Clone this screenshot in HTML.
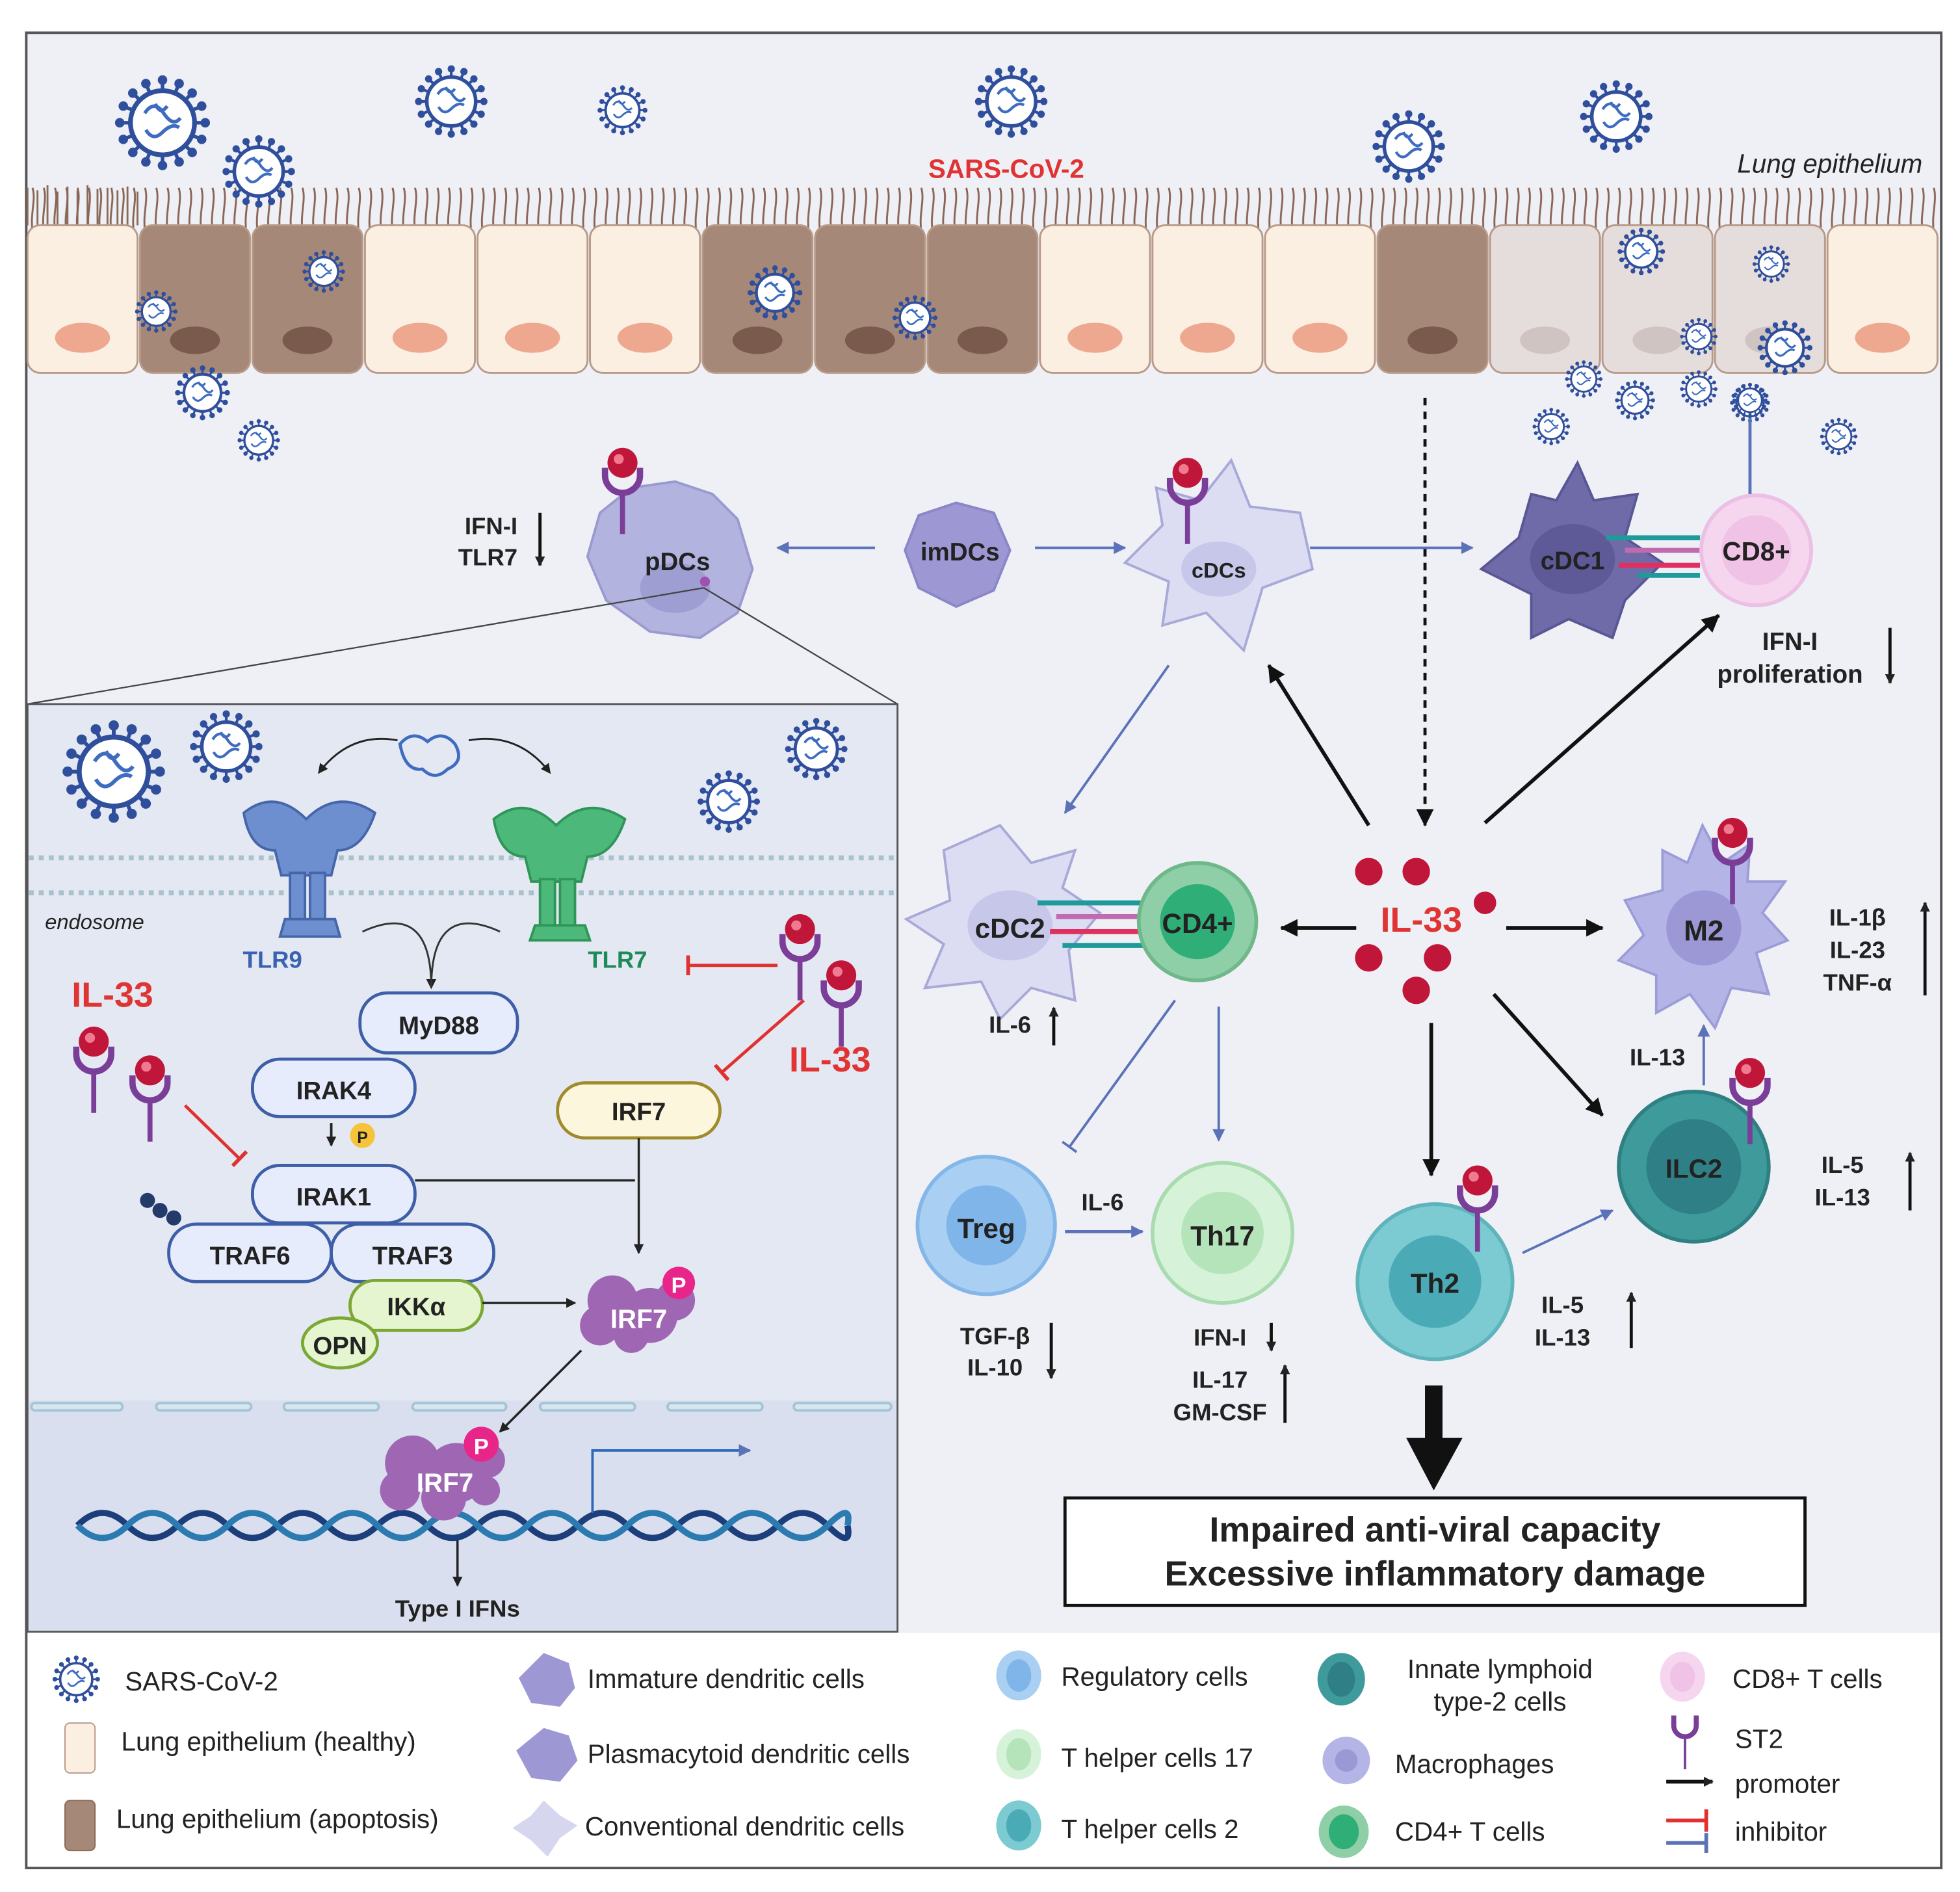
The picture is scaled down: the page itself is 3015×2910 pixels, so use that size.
<!DOCTYPE html>
<html><head><meta charset="utf-8"><style>
html,body{margin:0;padding:0;background:#fff;width:3015px;height:2910px;overflow:hidden}
svg{display:block}
text{font-family:"Liberation Sans",sans-serif;font-weight:bold;fill:#222}
.n{font-weight:normal}
</style></head><body>
<svg width="3015" height="2910" viewBox="0 0 1568 1513" xmlns="http://www.w3.org/2000/svg">
<defs>
<symbol id="v" viewBox="-40 -40 80 80">
<g stroke="#2f4e9c" stroke-width="3"><line x1="0" y1="-36" x2="0" y2="36"/><line x1="-36" y1="0" x2="36" y2="0"/><line x1="-25" y1="-25" x2="25" y2="25"/><line x1="-25" y1="25" x2="25" y2="-25"/><line x1="-14" y1="-33" x2="14" y2="33"/><line x1="14" y1="-33" x2="-14" y2="33"/><line x1="-33" y1="-14" x2="33" y2="14"/><line x1="-33" y1="14" x2="33" y2="-14"/></g>
<g fill="#2f4e9c"><circle cx="0" cy="-36" r="4"/><circle cx="0" cy="36" r="4"/><circle cx="-36" cy="0" r="4"/><circle cx="36" cy="0" r="4"/><circle cx="25" cy="25" r="4"/><circle cx="-25" cy="-25" r="4"/><circle cx="25" cy="-25" r="4"/><circle cx="-25" cy="25" r="4"/><circle cx="14" cy="33" r="4"/><circle cx="-14" cy="-33" r="4"/><circle cx="33" cy="14" r="4"/><circle cx="-33" cy="-14" r="4"/><circle cx="-14" cy="33" r="4"/><circle cx="14" cy="-33" r="4"/><circle cx="-33" cy="14" r="4"/><circle cx="33" cy="-14" r="4"/></g>
<circle r="27" fill="#fff" stroke="#2f4e9c" stroke-width="4"/>
<path d="M-15 -8 q8 -12 16 0 t14 4 M-14 6 q6 10 14 2 t14 -4 M-6 -16 q4 10 10 2" stroke="#3e6cc0" stroke-width="3" fill="none"/>
</symbol>
<symbol id="st2" viewBox="-20 -30 40 80">
<circle cx="0" cy="-12" r="12" fill="#c0163a"/><circle cx="-3" cy="-15" r="4" fill="#f07a90"/>
<path d="M-14 -8 v6 a14 14 0 0 0 28 0 v-6" stroke="#7a3e98" stroke-width="5" fill="none"/>
<line x1="0" y1="12" x2="0" y2="45" stroke="#7a3e98" stroke-width="4"/>
</symbol>
<marker id="ab" markerWidth="8" markerHeight="8" refX="7" refY="4" orient="auto" markerUnits="userSpaceOnUse"><path d="M0 0 L8 4 L0 8z" fill="#222"/></marker>
<marker id="abl" markerWidth="10" markerHeight="10" refX="9" refY="5" orient="auto" markerUnits="userSpaceOnUse"><path d="M0 0 L10 5 L0 10z" fill="#5b72b8"/></marker>
<marker id="abk" markerWidth="14" markerHeight="14" refX="13" refY="7" orient="auto" markerUnits="userSpaceOnUse"><path d="M0 0 L14 7 L0 14z" fill="#111"/></marker>
<marker id="tr" markerWidth="4" markerHeight="16" refX="2" refY="8" orient="auto" markerUnits="userSpaceOnUse"><rect x="0" y="0" width="3" height="16" fill="#e03030"/></marker>
<marker id="tb" markerWidth="4" markerHeight="14" refX="2" refY="7" orient="auto" markerUnits="userSpaceOnUse"><rect x="0" y="0" width="2" height="14" fill="#5b72b8"/></marker>
</defs>
<rect x="0" y="0" width="1568" height="1513" fill="#fff"/>
<rect x="21" y="26" width="1532" height="1280" fill="#eef0f6"/>
<rect x="21" y="26" width="1532" height="1468" fill="none" stroke="#555" stroke-width="2"/>

<!-- epithelium -->
<g id="epi">
<g stroke="#8a6a58" stroke-width="1.5" fill="none">
<path d="M22 180 V150 M30 180 V152 M38 180 V148 M46 180 V153 M54 180 V149 M62 180 V152 M70 180 V148 M78 180 V151 M86 180 V150 M94 180 V152 M102 180 V149 M110 180 V153"/>
</g>
</g>
<g id="cilia" stroke="#8a6454" stroke-width="1.6" fill="none"></g>
<!-- cilia via repeated pattern -->
<pattern id="cil" x="22" y="140" width="9" height="45" patternUnits="userSpaceOnUse"><path d="M4 45 C2 30 7 20 4 10" stroke="#8a6454" stroke-width="1.5" fill="none"/></pattern>
<rect x="22" y="148" width="1530" height="34" fill="url(#cil)"/>
<g stroke="#b89a88" stroke-width="1.5">
<rect x="22" y="180" width="88" height="118" rx="10" fill="#fbefe2"/>
<rect x="112" y="180" width="88" height="118" rx="10" fill="#a58878"/>
<rect x="202" y="180" width="88" height="118" rx="10" fill="#a58878"/>
<rect x="292" y="180" width="88" height="118" rx="10" fill="#fbefe2"/>
<rect x="382" y="180" width="88" height="118" rx="10" fill="#fbefe2"/>
<rect x="472" y="180" width="88" height="118" rx="10" fill="#fbefe2"/>
<rect x="562" y="180" width="88" height="118" rx="10" fill="#a58878"/>
<rect x="652" y="180" width="88" height="118" rx="10" fill="#a58878"/>
<rect x="742" y="180" width="88" height="118" rx="10" fill="#a58878"/>
<rect x="832" y="180" width="88" height="118" rx="10" fill="#fbefe2"/>
<rect x="922" y="180" width="88" height="118" rx="10" fill="#fbefe2"/>
<rect x="1012" y="180" width="88" height="118" rx="10" fill="#fbefe2"/>
<rect x="1102" y="180" width="88" height="118" rx="10" fill="#a58878"/>
<rect x="1192" y="180" width="88" height="118" rx="10" fill="#e4dddb"/>
<rect x="1282" y="180" width="88" height="118" rx="10" fill="#e4dddb"/>
<rect x="1372" y="180" width="88" height="118" rx="10" fill="#e4dddb"/>
<rect x="1462" y="180" width="88" height="118" rx="10" fill="#fbefe2"/>
</g>
<g>
<ellipse cx="66" cy="270" rx="22" ry="12" fill="#eea890"/>
<ellipse cx="156" cy="272" rx="20" ry="11" fill="#7a5a4c"/>
<ellipse cx="246" cy="272" rx="20" ry="11" fill="#7a5a4c"/>
<ellipse cx="336" cy="270" rx="22" ry="12" fill="#eea890"/>
<ellipse cx="426" cy="270" rx="22" ry="12" fill="#eea890"/>
<ellipse cx="516" cy="270" rx="22" ry="12" fill="#eea890"/>
<ellipse cx="606" cy="272" rx="20" ry="11" fill="#7a5a4c"/>
<ellipse cx="696" cy="272" rx="20" ry="11" fill="#7a5a4c"/>
<ellipse cx="786" cy="272" rx="20" ry="11" fill="#7a5a4c"/>
<ellipse cx="876" cy="270" rx="22" ry="12" fill="#eea890"/>
<ellipse cx="966" cy="270" rx="22" ry="12" fill="#eea890"/>
<ellipse cx="1056" cy="270" rx="22" ry="12" fill="#eea890"/>
<ellipse cx="1146" cy="272" rx="20" ry="11" fill="#7a5a4c"/>
<ellipse cx="1236" cy="272" rx="20" ry="11" fill="#cfc4c2"/>
<ellipse cx="1326" cy="272" rx="20" ry="11" fill="#cfc4c2"/>
<ellipse cx="1416" cy="272" rx="20" ry="11" fill="#cfc4c2"/>
<ellipse cx="1506" cy="270" rx="22" ry="12" fill="#eea890"/>
</g>
<!-- viruses -->
<use href="#v" x="92" y="60" width="76" height="76"/>
<use href="#v" x="178" y="108" width="58" height="58"/>
<use href="#v" x="332" y="52" width="58" height="58"/>
<use href="#v" x="478" y="68" width="40" height="40"/>
<use href="#v" x="780" y="52" width="58" height="58"/>
<use href="#v" x="1098" y="88" width="58" height="58"/>
<use href="#v" x="1264" y="64" width="58" height="58"/>
<use href="#v" x="108" y="232" width="34" height="34"/>
<use href="#v" x="242" y="200" width="34" height="34"/>
<use href="#v" x="140" y="292" width="44" height="44"/>
<use href="#v" x="190" y="335" width="34" height="34"/>
<use href="#v" x="598" y="212" width="44" height="44"/>
<use href="#v" x="714" y="236" width="36" height="36"/>
<use href="#v" x="1294" y="182" width="38" height="38"/>
<use href="#v" x="1402" y="196" width="30" height="30"/>
<use href="#v" x="1344" y="254" width="30" height="30"/>
<use href="#v" x="1406" y="256" width="44" height="44"/>
<use href="#v" x="1252" y="288" width="30" height="30"/>
<use href="#v" x="1292" y="304" width="32" height="32"/>
<use href="#v" x="1344" y="296" width="30" height="30"/>
<use href="#v" x="1384" y="306" width="32" height="32"/>
<use href="#v" x="1226" y="326" width="30" height="30"/>
<use href="#v" x="1456" y="334" width="30" height="30"/>
<text x="805" y="142" text-anchor="middle" font-size="21" style="fill:#e03434">SARS-CoV-2</text>
<text x="1538" y="138" text-anchor="end" font-size="21" class="n" font-style="italic">Lung epithelium</text>

<!-- dendritic cells row -->
<polygon points="540,385 570,395 590,415 602,455 590,490 560,510 520,505 485,480 470,445 480,410 505,390" fill="#b3b3df" stroke="#9a9ad0" stroke-width="2"/>
<ellipse cx="540" cy="470" rx="28" ry="20" fill="#9e9ed2"/>
<text x="542" y="456" text-anchor="middle" font-size="20">pDCs</text>
<circle cx="564" cy="465" r="4" fill="#a050b0"/>
<use href="#st2" x="478" y="352" width="40" height="80"/>
<text x="414" y="427" text-anchor="end" font-size="19">IFN-I</text>
<text x="414" y="452" text-anchor="end" font-size="19">TLR7</text>
<path d="M432 410 V452" stroke="#111" stroke-width="2.5" marker-end="url(#ab)"/>
<polygon points="765,402 795,410 808,440 795,472 765,485 735,470 724,440 735,412" fill="#9d98d4" stroke="#8a86c8" stroke-width="2"/>
<text x="768" y="448" text-anchor="middle" font-size="20">imDCs</text>
<line x1="700" y1="438" x2="622" y2="438" stroke="#5b72b8" stroke-width="2" marker-end="url(#abl)"/>
<line x1="828" y1="438" x2="900" y2="438" stroke="#5b72b8" stroke-width="2" marker-end="url(#abl)"/>
<polygon points="985,368 1000,405 1040,410 1050,455 1010,470 995,520 965,490 930,500 935,465 900,450 930,420 925,390 960,400" fill="#dcdcf2" stroke="#a9a9d8" stroke-width="2"/>
<ellipse cx="975" cy="455" rx="30" ry="22" fill="#c7c7ea"/>
<text x="975" y="462" text-anchor="middle" font-size="17">cDCs</text>
<use href="#st2" x="930" y="360" width="40" height="80"/>
<line x1="1048" y1="438" x2="1178" y2="438" stroke="#5b72b8" stroke-width="2" marker-end="url(#abl)"/>
<polygon points="1262,370 1275,400 1310,395 1300,430 1330,450 1300,480 1290,510 1255,495 1225,510 1225,475 1185,455 1215,430 1225,395 1245,400" fill="#6f6ba8" stroke="#5a5695" stroke-width="2"/>
<ellipse cx="1258" cy="447" rx="34" ry="28" fill="#5e5a98"/>
<text x="1258" y="455" text-anchor="middle" font-size="20">cDC1</text>
<g stroke-width="4"><line x1="1285" y1="430" x2="1360" y2="430" stroke="#1e9a9a"/><line x1="1300" y1="440" x2="1360" y2="440" stroke="#c06ab0"/><line x1="1295" y1="452" x2="1360" y2="452" stroke="#e03060"/><line x1="1310" y1="460" x2="1360" y2="460" stroke="#1e9a9a"/></g>
<circle cx="1405" cy="440" r="44" fill="#f5d6ee" stroke="#ecbfe4" stroke-width="3"/>
<circle cx="1405" cy="440" r="28" fill="#efc2e6"/>
<text x="1405" y="448" text-anchor="middle" font-size="21">CD8+</text>
<path d="M1400 395 V325" stroke="#5b72b8" stroke-width="2.5" marker-end="url(#tb)"/>
<use href="#v" x="1386" y="306" width="28" height="28"/>
<text x="1432" y="520" text-anchor="middle" font-size="20">IFN-I</text>
<text x="1432" y="546" text-anchor="middle" font-size="20">proliferation</text>
<path d="M1512 502 V546" stroke="#111" stroke-width="2.5" marker-end="url(#ab)"/>

<!-- arrows from IL-33 -->
<line x1="1140" y1="318" x2="1140" y2="660" stroke="#111" stroke-width="2.5" stroke-dasharray="6,5" marker-end="url(#abk)"/>
<line x1="1095" y1="660" x2="1015" y2="532" stroke="#111" stroke-width="3" marker-end="url(#abk)"/>
<line x1="1188" y1="658" x2="1375" y2="492" stroke="#111" stroke-width="3" marker-end="url(#abk)"/>
<line x1="1085" y1="742" x2="1025" y2="742" stroke="#111" stroke-width="3" marker-end="url(#abk)"/>
<line x1="1205" y1="742" x2="1282" y2="742" stroke="#111" stroke-width="3" marker-end="url(#abk)"/>
<line x1="1145" y1="818" x2="1145" y2="940" stroke="#111" stroke-width="3" marker-end="url(#abk)"/>
<line x1="1195" y1="795" x2="1282" y2="892" stroke="#111" stroke-width="3" marker-end="url(#abk)"/>
<line x1="935" y1="532" x2="852" y2="650" stroke="#5b72b8" stroke-width="2" marker-end="url(#abl)"/>
<!-- IL-33 dots -->
<g fill="#c0163a"><circle cx="1095" cy="697" r="11"/><circle cx="1133" cy="697" r="11"/><circle cx="1188" cy="722" r="9"/><circle cx="1095" cy="766" r="11"/><circle cx="1150" cy="766" r="11"/><circle cx="1133" cy="792" r="11"/></g>
<text x="1137" y="745" text-anchor="middle" font-size="28" style="fill:#e03434">IL-33</text>

<!-- cDC2 / CD4 -->
<polygon points="800,660 825,690 860,680 850,710 880,730 855,760 860,800 825,790 800,815 785,785 740,790 755,755 725,735 760,720 755,680" fill="#dcdcf2" stroke="#a9a9d8" stroke-width="2"/>
<ellipse cx="808" cy="740" rx="34" ry="28" fill="#c7c7ea"/>
<text x="808" y="750" text-anchor="middle" font-size="22">cDC2</text>
<g stroke-width="4"><line x1="830" y1="722" x2="915" y2="722" stroke="#1e9a9a"/><line x1="845" y1="733" x2="915" y2="733" stroke="#c06ab0"/><line x1="840" y1="745" x2="915" y2="745" stroke="#e03060"/><line x1="850" y1="756" x2="915" y2="756" stroke="#1e9a9a"/></g>
<circle cx="958" cy="737" r="47" fill="#8fcfa8" stroke="#6fb88a" stroke-width="3"/>
<circle cx="958" cy="737" r="30" fill="#2fae78"/>
<text x="958" y="746" text-anchor="middle" font-size="22">CD4+</text>
<text x="808" y="826" text-anchor="middle" font-size="19">IL-6</text>
<path d="M843 836 V806" stroke="#111" stroke-width="2.5" marker-end="url(#ab)"/>
<line x1="940" y1="800" x2="855" y2="918" stroke="#5b72b8" stroke-width="2" marker-end="url(#tb)"/>
<line x1="975" y1="805" x2="975" y2="912" stroke="#5b72b8" stroke-width="2" marker-end="url(#abl)"/>

<!-- M2 -->
<polygon points="1362,660 1378,690 1400,675 1398,705 1428,705 1410,730 1430,752 1405,762 1415,795 1385,790 1372,822 1352,795 1325,810 1325,780 1295,768 1315,748 1300,720 1330,712 1330,680 1350,690" fill="#b4b4e6" stroke="#9c9cd8" stroke-width="2"/>
<circle cx="1363" cy="742" r="30" fill="#9c98d6"/>
<text x="1363" y="752" text-anchor="middle" font-size="23">M2</text>
<use href="#st2" x="1366" y="648" width="40" height="80"/>
<text x="1486" y="740" text-anchor="middle" font-size="19">IL-1β</text>
<text x="1486" y="766" text-anchor="middle" font-size="19">IL-23</text>
<text x="1486" y="792" text-anchor="middle" font-size="19">TNF-α</text>
<path d="M1540 796 V722" stroke="#111" stroke-width="2.5" marker-end="url(#ab)"/>
<line x1="1363" y1="868" x2="1363" y2="820" stroke="#5b72b8" stroke-width="2" marker-end="url(#abl)"/>
<text x="1326" y="852" text-anchor="middle" font-size="19">IL-13</text>

<!-- ILC2 -->
<circle cx="1355" cy="933" r="60" fill="#3f9a9c" stroke="#2f8082" stroke-width="3"/>
<circle cx="1355" cy="933" r="38" fill="#2f7f86"/>
<text x="1355" y="942" text-anchor="middle" font-size="21">ILC2</text>
<use href="#st2" x="1380" y="840" width="40" height="80"/>
<text x="1474" y="938" text-anchor="middle" font-size="19">IL-5</text>
<text x="1474" y="964" text-anchor="middle" font-size="19">IL-13</text>
<path d="M1528 968 V922" stroke="#111" stroke-width="2.5" marker-end="url(#ab)"/>

<!-- Th2 -->
<circle cx="1148" cy="1025" r="62" fill="#7ccbd2" stroke="#5fb4bc" stroke-width="3"/>
<circle cx="1148" cy="1025" r="37" fill="#4aaab6"/>
<text x="1148" y="1034" text-anchor="middle" font-size="22">Th2</text>
<use href="#st2" x="1162" y="926" width="40" height="80"/>
<line x1="1218" y1="1002" x2="1290" y2="968" stroke="#5b72b8" stroke-width="2" marker-end="url(#abl)"/>
<text x="1250" y="1050" text-anchor="middle" font-size="19">IL-5</text>
<text x="1250" y="1076" text-anchor="middle" font-size="19">IL-13</text>
<path d="M1305 1078 V1034" stroke="#111" stroke-width="2.5" marker-end="url(#ab)"/>

<!-- Treg, Th17 -->
<circle cx="789" cy="980" r="55" fill="#a9cff2" stroke="#84b6e8" stroke-width="3"/>
<circle cx="789" cy="980" r="32" fill="#7fb5e8"/>
<text x="789" y="990" text-anchor="middle" font-size="22">Treg</text>
<circle cx="978" cy="986" r="56" fill="#d6f3d9" stroke="#a8dcae" stroke-width="3"/>
<circle cx="978" cy="986" r="33" fill="#b5e4bb"/>
<text x="978" y="996" text-anchor="middle" font-size="22">Th17</text>
<line x1="852" y1="985" x2="914" y2="985" stroke="#5b72b8" stroke-width="2.5" marker-end="url(#abl)"/>
<text x="882" y="968" text-anchor="middle" font-size="19">IL-6</text>
<text x="796" y="1075" text-anchor="middle" font-size="19">TGF-β</text>
<text x="796" y="1100" text-anchor="middle" font-size="19">IL-10</text>
<path d="M841 1058 V1102" stroke="#111" stroke-width="2.5" marker-end="url(#ab)"/>
<text x="976" y="1076" text-anchor="middle" font-size="19">IFN-I</text>
<path d="M1017 1058 V1080" stroke="#111" stroke-width="2.5" marker-end="url(#ab)"/>
<text x="976" y="1110" text-anchor="middle" font-size="19">IL-17</text>
<text x="976" y="1136" text-anchor="middle" font-size="19">GM-CSF</text>
<path d="M1028 1138 V1092" stroke="#111" stroke-width="2.5" marker-end="url(#ab)"/>

<!-- big arrow and box -->
<rect x="1140" y="1108" width="14" height="50" fill="#111"/>
<polygon points="1125,1150 1170,1150 1147,1192" fill="#111"/>
<rect x="852" y="1198" width="592" height="86" fill="#fff" stroke="#111" stroke-width="2.5"/>
<text x="1148" y="1233" text-anchor="middle" font-size="28">Impaired anti-viral capacity</text>
<text x="1148" y="1268" text-anchor="middle" font-size="28">Excessive inflammatory damage</text>

<!-- inset -->
<line x1="563" y1="470" x2="22" y2="563" stroke="#444" stroke-width="1.2"/>
<line x1="563" y1="470" x2="718" y2="563" stroke="#444" stroke-width="1.2"/>
<rect x="22" y="563" width="696" height="742" fill="#e4e8f3" stroke="#555" stroke-width="1.5"/>
<rect x="23" y="1120" width="694" height="184" fill="#d9dfee"/>
<g stroke="#a6c4d6" stroke-width="8" stroke-linecap="round"><line x1="28" y1="1125" x2="95" y2="1125"/><line x1="128" y1="1125" x2="198" y2="1125"/><line x1="230" y1="1125" x2="300" y2="1125"/><line x1="333" y1="1125" x2="402" y2="1125"/><line x1="435" y1="1125" x2="505" y2="1125"/><line x1="537" y1="1125" x2="607" y2="1125"/><line x1="638" y1="1125" x2="710" y2="1125"/></g>
<g stroke="#d5e6ee" stroke-width="4" stroke-linecap="round"><line x1="28" y1="1125" x2="95" y2="1125"/><line x1="128" y1="1125" x2="198" y2="1125"/><line x1="230" y1="1125" x2="300" y2="1125"/><line x1="333" y1="1125" x2="402" y2="1125"/><line x1="435" y1="1125" x2="505" y2="1125"/><line x1="537" y1="1125" x2="607" y2="1125"/><line x1="638" y1="1125" x2="710" y2="1125"/></g>
<line x1="23" y1="686" x2="717" y2="686" stroke="#a9c2cc" stroke-width="4" stroke-dasharray="4,4"/>
<line x1="23" y1="714" x2="717" y2="714" stroke="#a9c2cc" stroke-width="4" stroke-dasharray="4,4"/>
<use href="#v" x="50" y="576" width="82" height="82"/>
<use href="#v" x="152" y="568" width="58" height="58"/>
<use href="#v" x="628" y="574" width="50" height="50"/>
<use href="#v" x="558" y="616" width="50" height="50"/>
<path d="M320 595 q10 -12 22 -2 q12 -10 22 2 q8 14 -6 20 q-10 10 -20 0 q-14 2 -18 -20z" fill="none" stroke="#3e6cc0" stroke-width="2.5"/>
<path d="M318 592 Q280 585 255 618" stroke="#222" stroke-width="1.5" fill="none" marker-end="url(#ab)"/>
<path d="M375 592 Q415 585 440 618" stroke="#222" stroke-width="1.5" fill="none" marker-end="url(#ab)"/>
<!-- TLR9 -->
<g fill="#6d8fd0" stroke="#4566a8" stroke-width="2">
<path d="M195 650 q25 -20 50 5 q25 -25 55 -5 q-10 30 -30 30 l-5 20 h-40 l-5 -20 q-20 0 -25 -30z"/>
<rect x="232" y="698" width="12" height="38"/><rect x="248" y="698" width="12" height="38"/>
<path d="M228 735 h40 l4 14 h-48z"/>
</g>
<text x="218" y="774" text-anchor="middle" font-size="19" style="fill:#3b62b0">TLR9</text>
<!-- TLR7 -->
<g fill="#4cb87a" stroke="#2f9558" stroke-width="2">
<path d="M395 655 q25 -20 50 5 q25 -25 55 -5 q-10 30 -30 30 l-5 20 h-40 l-5 -20 q-20 0 -25 -30z"/>
<rect x="432" y="703" width="12" height="38"/><rect x="448" y="703" width="12" height="38"/>
<path d="M428 740 h40 l4 12 h-48z"/>
</g>
<text x="494" y="774" text-anchor="middle" font-size="19" style="fill:#1e8a5a">TLR7</text>
<text x="36" y="743" font-size="17" class="n" font-style="italic">endosome</text>
<path d="M290 745 Q345 720 345 790" stroke="#333" stroke-width="1.5" fill="none" marker-end="url(#ab)"/>
<path d="M400 745 Q345 720 345 790" stroke="#333" stroke-width="1.5" fill="none"/>
<!-- boxes -->
<g stroke="#3e5fa8" stroke-width="2.5" fill="#e6ecfb">
<rect x="288" y="794" width="126" height="48" rx="22"/>
<rect x="202" y="847" width="130" height="46" rx="22"/>
<rect x="202" y="932" width="130" height="46" rx="22"/>
<rect x="135" y="979" width="130" height="46" rx="22"/>
<rect x="265" y="979" width="130" height="46" rx="22"/>
</g>
<rect x="446" y="866" width="130" height="44" rx="22" fill="#fbf6dc" stroke="#a08a2a" stroke-width="2.5"/>
<rect x="280" y="1024" width="106" height="40" rx="20" fill="#e5f5cf" stroke="#7aa832" stroke-width="2.5"/>
<ellipse cx="272" cy="1074" rx="30" ry="20" fill="#e5f5cf" stroke="#7aa832" stroke-width="2.5"/>
<text x="351" y="827" text-anchor="middle" font-size="20">MyD88</text>
<text x="267" y="879" text-anchor="middle" font-size="20">IRAK4</text>
<text x="267" y="964" text-anchor="middle" font-size="20">IRAK1</text>
<text x="200" y="1011" text-anchor="middle" font-size="20">TRAF6</text>
<text x="330" y="1011" text-anchor="middle" font-size="20">TRAF3</text>
<text x="511" y="896" text-anchor="middle" font-size="20">IRF7</text>
<text x="333" y="1052" text-anchor="middle" font-size="20">IKKα</text>
<text x="272" y="1083" text-anchor="middle" font-size="20">OPN</text>
<g fill="#243a6a"><circle cx="118" cy="960" r="6"/><circle cx="128" cy="968" r="6"/><circle cx="139" cy="974" r="6"/></g>
<path d="M265 898 V916" stroke="#222" stroke-width="2" marker-end="url(#ab)"/>
<circle cx="290" cy="908" r="10" fill="#f6c43a"/><text x="290" y="914" text-anchor="middle" font-size="13">P</text>
<line x1="332" y1="944" x2="508" y2="944" stroke="#222" stroke-width="1.8"/>
<line x1="511" y1="910" x2="511" y2="1002" stroke="#222" stroke-width="1.8" marker-end="url(#ab)"/>
<line x1="386" y1="1042" x2="460" y2="1042" stroke="#222" stroke-width="1.8" marker-end="url(#ab)"/>
<g fill="#9f66b4"><circle cx="490" cy="1040" r="20"/><circle cx="520" cy="1052" r="22"/><circle cx="540" cy="1040" r="16"/><circle cx="480" cy="1060" r="16"/><circle cx="505" cy="1068" r="14"/></g>
<text x="511" y="1062" text-anchor="middle" font-size="21" style="fill:#fff">IRF7</text>
<circle cx="543" cy="1026" r="13" fill="#e8268a"/><text x="543" y="1034" text-anchor="middle" font-size="18" style="fill:#fff">P</text>
<line x1="465" y1="1080" x2="400" y2="1145" stroke="#222" stroke-width="1.8" marker-end="url(#ab)"/>
<!-- DNA -->
<path d="M62 1220 q20 -20 40 0 t40 0 t40 0 t40 0 t40 0 t40 0 t40 0 t40 0 t40 0 t40 0 t40 0 t40 0 t40 0 t40 0 t40 0 t16 0" stroke="#1c3e7a" stroke-width="5" fill="none"/>
<path d="M62 1220 q20 20 40 0 t40 0 t40 0 t40 0 t40 0 t40 0 t40 0 t40 0 t40 0 t40 0 t40 0 t40 0 t40 0 t40 0 t40 0 t16 0" stroke="#2b7ab0" stroke-width="5" fill="none"/>
<g fill="#9f66b4"><circle cx="330" cy="1170" r="22"/><circle cx="365" cy="1178" r="24"/><circle cx="390" cy="1168" r="14"/><circle cx="320" cy="1192" r="16"/><circle cx="355" cy="1198" r="18"/><circle cx="388" cy="1192" r="12"/></g>
<text x="356" y="1193" text-anchor="middle" font-size="21" style="fill:#fff">IRF7</text>
<circle cx="385" cy="1155" r="14" fill="#e8268a"/><text x="385" y="1163" text-anchor="middle" font-size="18" style="fill:#fff">P</text>
<path d="M474 1210 V1160 H600" stroke="#2b6ab8" stroke-width="2" fill="none" marker-end="url(#abl)"/>
<line x1="366" y1="1232" x2="366" y2="1268" stroke="#222" stroke-width="1.8" marker-end="url(#ab)"/>
<text x="366" y="1293" text-anchor="middle" font-size="19">Type I IFNs</text>
<!-- IL-33 inset -->
<text x="90" y="805" text-anchor="middle" font-size="28" style="fill:#e03434">IL-33</text>
<use href="#st2" x="55" y="815" width="40" height="80"/>
<use href="#st2" x="100" y="838" width="40" height="80"/>
<line x1="148" y1="884" x2="192" y2="927" stroke="#e03030" stroke-width="2.5" marker-end="url(#tr)"/>
<use href="#st2" x="620" y="725" width="40" height="80"/>
<use href="#st2" x="653" y="762" width="40" height="80"/>
<line x1="622" y1="772" x2="550" y2="772" stroke="#e03030" stroke-width="2.5" marker-end="url(#tr)"/>
<line x1="643" y1="800" x2="577" y2="858" stroke="#e03030" stroke-width="2.5" marker-end="url(#tr)"/>
<text x="664" y="857" text-anchor="middle" font-size="28" style="fill:#e03434">IL-33</text>

<!-- legend -->
<g font-size="21">
<use href="#v" x="42" y="1324" width="38" height="38"/>
<text x="100" y="1352" class="n">SARS-CoV-2</text>
<rect x="52" y="1378" width="24" height="40" rx="4" fill="#fbefe2" stroke="#b89a88"/>
<text x="97" y="1400" class="n">Lung epithelium (healthy)</text>
<rect x="52" y="1440" width="24" height="40" rx="4" fill="#a58878" stroke="#8a6a58"/>
<text x="93" y="1462" class="n">Lung epithelium (apoptosis)</text>
<polygon points="435,1322 455,1330 460,1350 448,1365 425,1362 415,1342" fill="#9d98d4"/>
<text x="470" y="1350" class="n">Immature dendritic cells</text>
<polygon points="435,1382 455,1388 462,1408 448,1425 425,1422 413,1400" fill="#9d98d4"/>
<text x="470" y="1410" class="n">Plasmacytoid dendritic cells</text>
<polygon points="435,1440 448,1452 462,1460 448,1470 438,1485 425,1472 410,1462 425,1452" fill="#d6d6ef"/>
<text x="468" y="1468" class="n">Conventional dendritic cells</text>
<ellipse cx="815" cy="1340" rx="18" ry="20" fill="#a9cff2"/><ellipse cx="815" cy="1340" rx="10" ry="13" fill="#7fb5e8"/>
<text x="849" y="1348" class="n">Regulatory cells</text>
<ellipse cx="815" cy="1403" rx="18" ry="20" fill="#d6f3d9"/><ellipse cx="815" cy="1403" rx="10" ry="13" fill="#b5e4bb"/>
<text x="849" y="1413" class="n">T helper cells 17</text>
<ellipse cx="815" cy="1460" rx="18" ry="20" fill="#7ccbd2"/><ellipse cx="815" cy="1460" rx="10" ry="13" fill="#4aaab6"/>
<text x="849" y="1470" class="n">T helper cells 2</text>
<ellipse cx="1073" cy="1343" rx="19" ry="21" fill="#3f9a9c"/><ellipse cx="1073" cy="1343" rx="11" ry="14" fill="#2f7f86"/>
<text x="1200" y="1342" text-anchor="middle" class="n">Innate lymphoid</text>
<text x="1200" y="1368" text-anchor="middle" class="n">type-2 cells</text>
<circle cx="1077" cy="1408" r="19" fill="#b4b4e6"/><circle cx="1077" cy="1408" r="9" fill="#9c98d6"/>
<text x="1116" y="1418" class="n">Macrophages</text>
<ellipse cx="1075" cy="1465" rx="20" ry="21" fill="#8fcfa8"/><ellipse cx="1075" cy="1465" rx="12" ry="14" fill="#2fae78"/>
<text x="1116" y="1472" class="n">CD4+ T cells</text>
<ellipse cx="1346" cy="1341" rx="18" ry="20" fill="#f5d6ee"/><ellipse cx="1346" cy="1341" rx="10" ry="12" fill="#efc2e6"/>
<text x="1386" y="1350" class="n">CD8+ T cells</text>
<path d="M1339 1372 v8 a9 9 0 0 0 18 0 v-8" stroke="#7a3e98" stroke-width="4" fill="none"/>
<line x1="1348" y1="1389" x2="1348" y2="1415" stroke="#7a3e98" stroke-width="2"/>
<text x="1388" y="1398" class="n">ST2</text>
<line x1="1333" y1="1425" x2="1370" y2="1425" stroke="#111" stroke-width="3" marker-end="url(#ab)"/>
<text x="1388" y="1434" class="n">promoter</text>
<line x1="1333" y1="1456" x2="1364" y2="1456" stroke="#e03030" stroke-width="3"/>
<line x1="1365" y1="1447" x2="1365" y2="1465" stroke="#e03030" stroke-width="3"/>
<line x1="1333" y1="1474" x2="1364" y2="1474" stroke="#5b72b8" stroke-width="3"/>
<line x1="1365" y1="1466" x2="1365" y2="1482" stroke="#5b72b8" stroke-width="3"/>
<text x="1388" y="1472" class="n">inhibitor</text>
</g>
</svg>
</body></html>
